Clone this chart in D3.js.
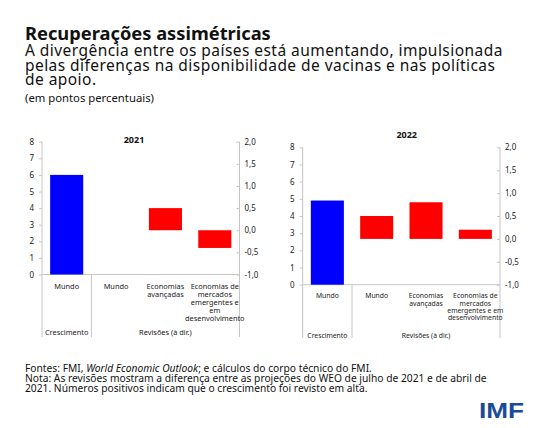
<!DOCTYPE html>
<html>
<head>
<meta charset="utf-8">
<script src="https://cdnjs.cloudflare.com/ajax/libs/d3/7.8.5/d3.min.js"></script>
<style>
  html, body { margin: 0; padding: 0; background: #fff; }
  svg { display: block; }
  text { font-family: "Noto Sans", "Open Sans", sans-serif; }
</style>
</head>
<body>
<svg id="chart" width="550" height="428"></svg>
<script>
// ---------- DATA ----------
const categories = ["Mundo", "Mundo", "Economias avançadas", "Economias de mercados emergentes e em desenvolvimento"];
const groups = ["Crescimento", "Revisões (à dir.)"];
const years = ["2021", "2022"];
const growth2021 = [6.0];
const revisions2021 = [0.0, 0.5, -0.4];
const growth2022 = [4.9];
const revisions2022 = [0.5, 0.8, 0.2];
const leftTicks = [0, 1, 2, 3, 4, 5, 6, 7, 8];
const rightTicks = [-1.0, -0.5, 0.0, 0.5, 1.0, 1.5, 2.0];
const labelLines2021 = [["Mundo"], ["Mundo"], ["Economias", "avançadas"], ["Economias de", "mercados", "emergentes e", "em", "desenvolvimento"]];
const labelLines2022 = [["Mundo"], ["Mundo"], ["Economias", "avançadas"], ["Economias de", "mercados", "emergentes e em", "desenvolvimento"]];

const title = "Recuperações assimétricas";
const subtitle = ["A divergência entre os países está aumentando, impulsionada",
                  "pelas diferenças na disponibilidade de vacinas e nas políticas",
                  "de apoio."];
const unitNote = "(em pontos percentuais)";

// ---------- DRAW ----------
const svg = d3.select("#chart");
const fmt = v => d3.format(".1f")(v).replace(".", ",").replace("−", "-");

// header
svg.append("text").attr("x", 25).attr("y", 40)
  .attr("font-size", 18.3).attr("font-weight", 700).attr("fill", "#111").text(title);
subtitle.forEach((s, i) => {
  svg.append("text").attr("x", 25).attr("y", 56 + i * 14.6)
    .attr("font-size", 15.5).attr("letter-spacing", 0.45).attr("fill", "#111").text(s);
});
svg.append("text").attr("x", 25).attr("y", 101.5)
  .attr("font-size", 11.3).attr("fill", "#111").text(unitNote);

function drawPanel(cfg) {
  const g = svg.append("g");
  const x = d3.scaleBand().domain(d3.range(categories.length))
    .range([cfg.x0, cfg.x1]).paddingInner(0.33).paddingOuter(0.165);
  const yL = d3.scaleLinear().domain([0, 8]).range([cfg.y1, cfg.y0]);
  const yR = d3.scaleLinear().domain([-1, 2]).range([cfg.y1, cfg.y0]);
  const axisColor = "#c6c6c6";

  // left axis
  const la = g.append("g").attr("transform", `translate(${cfg.x0},0)`)
    .call(d3.axisLeft(yL).tickValues(leftTicks).tickSize(3).tickPadding(5).tickFormat(d3.format("d")));
  la.select(".domain").remove();
  la.selectAll(".tick line").attr("stroke", axisColor);
  la.selectAll(".tick text").attr("font-size", cfg.tickFont).attr("fill", "#222")
    .style("font-family", "'Noto Sans', sans-serif");

  // right axis
  const ra = g.append("g").attr("transform", `translate(${cfg.x1},0)`)
    .call(d3.axisRight(yR).tickValues(rightTicks).tickSize(-3).tickPadding(5).tickFormat(fmt));
  ra.select(".domain").remove();
  ra.selectAll(".tick line").attr("stroke", axisColor);
  ra.selectAll(".tick text").attr("font-size", cfg.tickFont).attr("fill", "#222")
    .style("font-family", "'Noto Sans', sans-serif");

  // frame lines
  g.append("line").attr("x1", cfg.x0).attr("x2", cfg.x0).attr("y1", cfg.y0).attr("y2", cfg.yb)
    .attr("stroke", axisColor);
  g.append("line").attr("x1", cfg.x1).attr("x2", cfg.x1).attr("y1", cfg.y0).attr("y2", cfg.yb)
    .attr("stroke", axisColor);
  g.append("line").attr("x1", cfg.x0).attr("x2", cfg.x1).attr("y1", cfg.y1).attr("y2", cfg.y1)
    .attr("stroke", axisColor);
  const sep = cfg.x0 + x.step();
  g.append("line").attr("x1", sep).attr("x2", sep).attr("y1", cfg.y1).attr("y2", cfg.yb)
    .attr("stroke", axisColor);

  // growth bar (left scale)
  g.selectAll("rect.growth").data(cfg.growth).join("rect").attr("class", "growth")
    .attr("x", (d, i) => x(i)).attr("width", x.bandwidth())
    .attr("y", d => yL(Math.max(0, d))).attr("height", d => Math.abs(yL(d) - yL(0)))
    .attr("fill", "#0000ff");

  // revision bars (right scale)
  g.selectAll("rect.rev").data(cfg.revisions).join("rect").attr("class", "rev")
    .attr("x", (d, i) => x(i + 1)).attr("width", x.bandwidth())
    .attr("y", d => yR(Math.max(0, d))).attr("height", d => Math.abs(yR(d) - yR(0)))
    .attr("fill", "#ff0000");

  // title
  g.append("text").attr("x", cfg.titleX).attr("y", cfg.titleY).attr("text-anchor", "middle")
    .attr("font-size", 9).attr("font-weight", 700).attr("fill", "#111").text(cfg.year);

  // category labels
  cfg.labels.forEach((lines, i) => {
    const t = g.append("text").attr("text-anchor", "middle").attr("font-size", cfg.catFont)
      .attr("fill", "#222");
    lines.forEach((ln, j) => {
      t.append("tspan").attr("x", x(i) + x.bandwidth() / 2)
        .attr("y", cfg.y1 + cfg.labelOffset + j * cfg.lineH).text(ln);
    });
  });

  // group labels
  g.append("text").attr("x", (cfg.x0 + sep) / 2).attr("y", cfg.groupY).attr("text-anchor", "middle")
    .attr("font-size", cfg.catFont).attr("fill", "#222").text(groups[0]);
  g.append("text").attr("x", (sep + cfg.x1) / 2).attr("y", cfg.groupY).attr("text-anchor", "middle")
    .attr("font-size", cfg.catFont).attr("fill", "#222").text(groups[1]);
}

drawPanel({
  year: years[0], growth: growth2021, revisions: revisions2021, labels: labelLines2021,
  x0: 42, x1: 239.5, y0: 141.7, y1: 274.5, yb: 337,
  titleX: 134, titleY: 142.5, tickFont: 8, catFont: 7.4, labelOffset: 14, lineH: 8, groupY: 334.5
});
drawPanel({
  year: years[1], growth: growth2022, revisions: revisions2022, labels: labelLines2022,
  x0: 302.7, x1: 500, y0: 147.3, y1: 284.7, yb: 338,
  titleX: 406.7, titleY: 138.3, tickFont: 8, catFont: 6.8, labelOffset: 13.5, lineH: 7.3, groupY: 337.5
});

// footnotes
const f1 = svg.append("text").attr("x", 25).attr("y", 371.5).attr("font-size", 10.25).attr("fill", "#111");
f1.append("tspan").text("Fontes: FMI, ");
f1.append("tspan").attr("font-style", "italic").text("World Economic Outlook");
f1.append("tspan").text("; e cálculos do corpo técnico do FMI.");
svg.append("text").attr("x", 25).attr("y", 381.5).attr("font-size", 10.25).attr("fill", "#111")
  .text("Nota: As revisões mostram a diferença entre as projeções do WEO de julho de 2021 e de abril de");
svg.append("text").attr("x", 25).attr("y", 391.5).attr("font-size", 10.25).attr("fill", "#111")
  .text("2021. Números positivos indicam que o crescimento foi revisto em alta.");

// logo
svg.append("text").attr("x", 479).attr("y", 417.7).attr("font-size", 22).attr("font-weight", 700)
  .attr("fill", "#1a4b9b").style("font-family", "'Liberation Sans', Arial, sans-serif")
  .attr("textLength", 45).attr("lengthAdjust", "spacingAndGlyphs").text("IMF");
</script>
</body>
</html>
